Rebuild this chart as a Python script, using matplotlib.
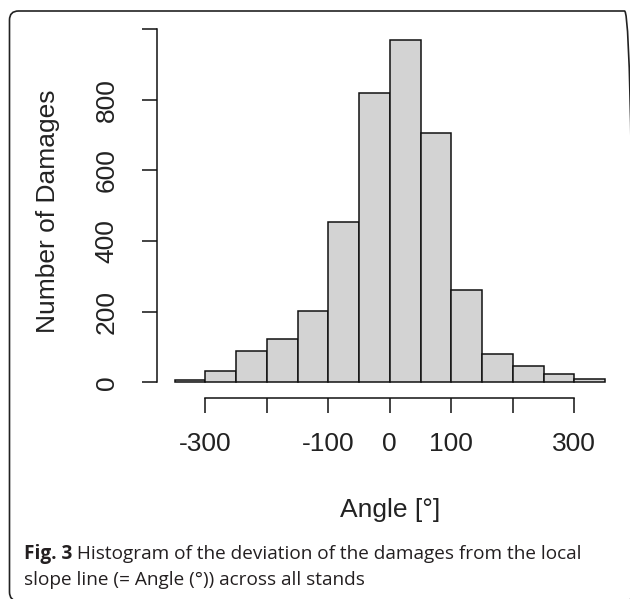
import numpy as np
import matplotlib
matplotlib.use('Agg')
import matplotlib.pyplot as plt
from matplotlib.patches import FancyBboxPatch
from matplotlib.transforms import IdentityTransform

# ==========================================
# DATA
# ==========================================

bin_edges = [-350, -300, -250, -200, -150, -100, -50, 0, 50, 100, 150, 200, 250, 300, 350]
counts = [5, 33, 89, 123, 201, 454, 818, 968, 707, 261, 79, 47, 23, 9]

x_ticks = [-300, -200, -100, 0, 100, 200, 300]
x_tick_labels = ["-300", "", "-100", "0", "100", "", "300"]
y_ticks = [0, 200, 400, 600, 800, 1000]
y_tick_labels = ["0", "200", "400", "600", "800", ""]

caption_bold = "Fig. 3"
caption_line1 = " Histogram of the deviation of the damages from the local"
caption_line2 = "slope line (= Angle (\u00b0)) across all stands"

# ==========================================
# FIGURE
# ==========================================

W, H = 630, 599
DPI = 100
fig = plt.figure(figsize=(W / DPI, H / DPI), dpi=DPI)

TXT = "#222222"
plt.rcParams['font.family'] = ['Liberation Sans', 'DejaVu Sans']

# axes box in pixel terms: x 157..622, y 26..398 (from top)
ax = fig.add_axes([157.3 / W, 1 - 397.8 / H, (622.3 - 157.3) / W, (397.8 - 26.2) / H])

edges = np.array(bin_edges)
ax.bar(
    edges[:-1],
    counts,
    width=np.diff(edges),
    align='edge',
    color='#d3d3d3',
    edgecolor='#111111',
    linewidth=1.1
)

ax.set_xlim(-378, 378)
ax.set_ylim(-44, 1008)

for s in ['top', 'right']:
    ax.spines[s].set_visible(False)

ax.spines['left'].set_bounds(0, 1000)
ax.spines['bottom'].set_bounds(-300, 300)
for s in ['left', 'bottom']:
    ax.spines[s].set_linewidth(1.1)
    ax.spines[s].set_color('#111111')

ax.set_xticks(x_ticks)
ax.set_xticklabels(x_tick_labels)
ax.set_yticks(y_ticks)
ax.set_yticklabels(y_tick_labels, rotation=90, va='center')

ax.tick_params(axis='both', length=10.8, width=1.1, color='#111111',
               labelsize=19, labelcolor=TXT)
ax.tick_params(axis='x', pad=14)
ax.tick_params(axis='y', pad=17)

# axis titles
fig.text(48 / W, 1 - 211 / H, "Number of Damages", rotation=90,
         ha='center', va='center', fontsize=19, color=TXT)
fig.text(390 / W, 1 - 510 / H, "Angle [\u00b0]",
         ha='center', va='center', fontsize=19, color=TXT)

# ==========================================
# CAPTION
# ==========================================

cap_font = ['Open Sans', 'DejaVu Sans']
cap_col = "#231f20"
cap_size = 13.7
t_bold = fig.text(24 / W, 1 - 554 / H, caption_bold, family=cap_font,
                  fontsize=cap_size, fontweight='bold', color=cap_col, va='center')
fig.canvas.draw()
bb = t_bold.get_window_extent(fig.canvas.get_renderer())
fig.text(bb.x1 / W, 1 - 554 / H, caption_line1, family=cap_font,
         fontsize=cap_size, color=cap_col, va='center')
fig.text(24 / W, 1 - 580 / H, caption_line2, family=cap_font,
         fontsize=cap_size, color=cap_col, va='center')

# rounded frame around the whole figure (right and bottom run off the edge)
frame = FancyBboxPatch(
    (9.5, -2), 624, H - 9,
    boxstyle="round,pad=0,rounding_size=9",
    transform=IdentityTransform(),
    facecolor='none',
    edgecolor='#222222',
    linewidth=1.2
)
fig.patches.append(frame)

fig.savefig("out.png", dpi=DPI)
